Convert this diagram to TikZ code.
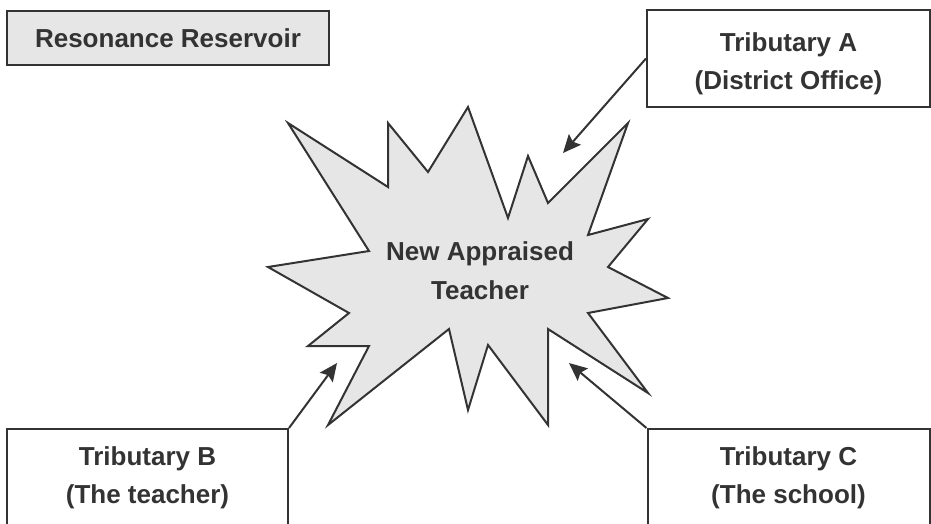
\documentclass[tikz,border=0pt]{standalone}
\usepackage{fontspec}
\setmainfont{Liberation Sans}
\usetikzlibrary{arrows.meta,positioning}
\definecolor{ink}{HTML}{333333}
\definecolor{shade}{HTML}{E6E6E6}

\begin{document}
\begin{tikzpicture}[x=1pt,y=-1pt,line width=2pt,color=ink,node distance=2cm,on grid,
    font=\fontsize{26}{38}\selectfont\bfseries,
    box/.style={draw,rectangle,align=center,inner sep=0pt,minimum height=97pt},
    tip/.style={-{Stealth[length=18pt,width=16pt,inset=3pt]}}]
    \useasboundingbox (0,0) rectangle (931,523);

    \node[box,fill=shade,minimum width=322pt,minimum height=54pt] (legend) at (168,38) {Resonance Reservoir};
    \node[box,minimum width=283pt] (t_a) at (788.5,58.5) {\rule{0pt}{30pt}Tributary A\\(District Office)};
    \node[box,minimum width=282pt] [below=419pt of t_a] (t_c) {Tributary C\\(The school)};
    \node[box,minimum width=281pt] [left=641pt of t_c] (t_b) {Tributary B\\(The teacher)};

    % the burst
    \draw[fill=shade,line join=miter] (288,123) -- (388,187) -- (388,123) -- (428,172)
        -- (468,107) -- (508,218) -- (528,156) -- (548,203) -- (628,123) -- (588,235)
        -- (648,219) -- (608,267) -- (668,298) -- (588,313) -- (648,393) -- (548,329)
        -- (548,425) -- (488,345) -- (468,410) -- (449,329) -- (328,425) -- (369,346)
        -- (308,346) -- (349,313) -- (268,267) -- (369,251) -- cycle;
    \node[align=center,font=\fontsize{26}{39}\selectfont\bfseries] (burst) at (480,271) {New Appraised\\Teacher};

    \coordinate (a_end) at (563,153);
    \coordinate (b_end) at (337,363);
    \coordinate (c_end) at (569,363);

    \path[tip]
    (t_a.west) edge (a_end)
    (t_b.north east) edge (b_end)
    (t_c.north west) edge (c_end)
    ;
\end{tikzpicture}
\end{document}
